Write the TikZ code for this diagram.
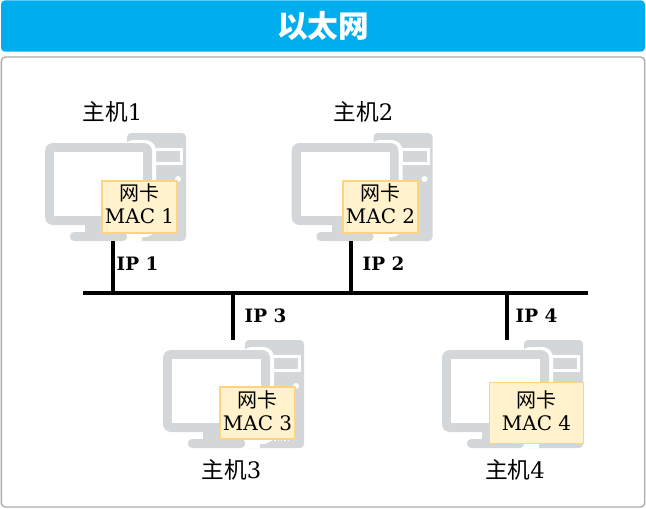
\documentclass[tikz,border=0pt]{standalone}
\usepackage{fontspec}
\setmainfont{DejaVu Serif}
\newfontfamily\cjk{Noto Sans CJK SC}
\definecolor{titlecol}{HTML}{00AEEF}
\definecolor{pccol}{HTML}{D4D7D9}
\definecolor{niccol}{HTML}{FFF2CC}
\definecolor{nicline}{HTML}{FFD37F}
\tikzset{
  pc/.pic={
    \fill[pccol,rounded corners=3] (82,0) rectangle (141,108);
    \fill[white] (108,15) rectangle (138,32);
    \fill[pccol] (111,18) rectangle (135,29);
    \fill[white] (133,46) circle (3);
    \draw[white,line width=0.75pt,dash pattern=on 1pt off 1.5pt] (98,100.5) -- (128,100.5);
    \fill[white,rounded corners=8] (78,7) rectangle (111,104);
    \fill[white] (78,90) rectangle (97,108);
    \fill[pccol,rounded corners=6] (0,10) rectangle (107,92);
    \fill[white] (9,19) rectangle (98,83);
    \fill[pccol] (40,92) rectangle (75,99);
    \fill[pccol,rounded corners=3] (25,99) rectangle (82,108);
  },
  nic/.style={draw=nicline,line width=1.5pt,fill=niccol,align=center,inner sep=0pt,text depth=4pt,
    minimum width=56pt,minimum height=39pt,font=\fontsize{15}{17}\selectfont},
  hostlab/.style={font=\fontsize{17}{20}\selectfont},
  iplab/.style={font=\fontsize{13.8}{16}\selectfont\bfseries,inner sep=0pt},
  wire/.style={line width=3pt}
}
\begin{document}
\begin{tikzpicture}[x=0.75pt,y=-0.75pt]
\useasboundingbox (0,0) rectangle (646,508);
\node[fill=titlecol,rounded corners=3,minimum width=483pt,minimum height=38.5pt,inner sep=0pt,
  text=white,font=\cjk\fontsize{23}{27}\selectfont\bfseries] (title) at (323,26) {以太网};
\node[draw=black!33,line width=1pt,rounded corners=3,minimum width=482.5pt,minimum height=337.5pt,inner sep=0pt] (frame) at (323,282) {};
\pic at (45,133) {pc};
\pic at (291.5,133) {pc};
\pic at (163,340) {pc};
\pic at (442,340) {pc};
\node[nic] (nicA) at (139.5,206.5) {{\cjk 网卡}\\MAC 1};
\node[nic] (nicB) at (380.5,206.5) {{\cjk 网卡}\\MAC 2};
\node[nic] (nicC) at (257.5,413) {{\cjk 网卡}\\MAC 3};
\node[nic,draw=nicline,line width=0.75pt,minimum width=70pt,minimum height=46pt] (nicD) at (536.5,413) {{\cjk 网卡}\\MAC 4};
\node[hostlab] (hostA) at (112.5,112) {{\cjk 主机}1};
\node[hostlab] (hostB) at (363.5,112) {{\cjk 主机}2};
\node[hostlab] (hostC) at (231.5,470) {{\cjk 主机}3};
\node[hostlab] (hostD) at (515,470) {{\cjk 主机}4};
\coordinate (busL) at (83,293);
\coordinate (busR) at (588,293);
\coordinate (dropA) at (113,293);
\coordinate (dropB) at (351,293);
\coordinate (dropC) at (233,293);
\coordinate (dropD) at (507,293);
\coordinate (endA) at (113,241);
\coordinate (endB) at (351,241);
\coordinate (endC) at (233,340);
\coordinate (endD) at (507,340);
\draw[wire] (busL) -- (busR);
\draw[wire] (dropA) -- (endA);
\draw[wire] (dropB) -- (endB);
\draw[wire] (dropC) -- (endC);
\draw[wire] (dropD) -- (endD);
\node[iplab] (ipA) at (137.5,263.5) {IP 1};
\node[iplab] (ipB) at (383.5,263.5) {IP 2};
\node[iplab] (ipC) at (265.5,315.5) {IP 3};
\node[iplab] (ipD) at (536.5,315.5) {IP 4};
\end{tikzpicture}
\end{document}
